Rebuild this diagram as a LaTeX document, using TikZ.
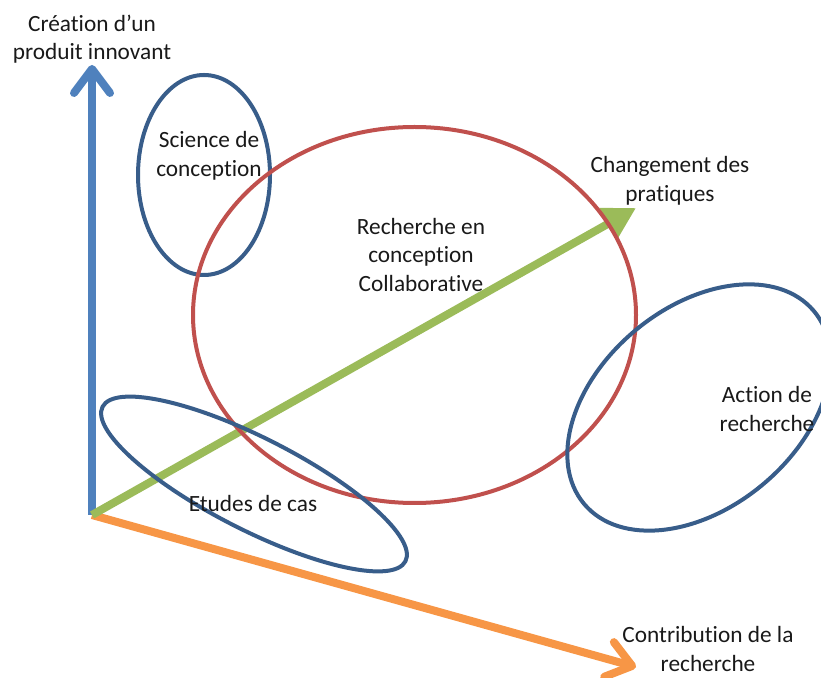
\documentclass[tikz,border=0pt]{standalone}
\usepackage{fontspec}
\setmainfont{Carlito}[Ligatures={NoCommon}]
\usetikzlibrary{arrows.meta}
\definecolor{axebleu}{HTML}{4F81BD}
\definecolor{axevert}{HTML}{9BBB59}
\definecolor{axeorange}{HTML}{F79646}
\definecolor{bleufonce}{HTML}{385D8A}
\definecolor{rougebrique}{HTML}{C0504D}
\tikzset{
    axe/.style={line width=8pt},
    bulle/.style={line width=4pt, draw=bleufonce},
    texte/.style={align=center, inner sep=1pt, text=black!90, font=\fontsize{23.3}{28.5}\selectfont},
  }

\begin{document}
\begin{tikzpicture}[x=1pt,y=1pt]
				  \useasboundingbox (0,0) rectangle (821,677);
				  %origine et extremites des axes
				  \coordinate (O) at (92,162);
				  \coordinate (Y) at (92,612);
				  \coordinate (V) at (636,469);
				  \coordinate (X) at (636,10);

				  \draw[axe, axebleu, -{Straight Barb[length=24pt,width=36pt,round]}] (O) -- (Y);
				  \draw[axe, axeorange, -{Straight Barb[length=24pt,width=36pt,round]}] (O) -- (X);
				  \draw[axe, axevert, -{Triangle[length=32pt,width=34pt]}] (O) -- (V);

				  %bulles
				  \draw[bulle] (204,502) ellipse [x radius=66pt, y radius=100pt];
				  \draw[bulle, draw=rougebrique] (414.5,362) ellipse [x radius=221.5pt, y radius=188pt];
				  \draw[bulle, rotate around={-27:(254,193)}] (254,193) ellipse [x radius=170pt, y radius=46pt];
				  \draw[bulle, rotate around={40:(699,269.5)}] (699,269.5) ellipse [x radius=150pt, y radius=100pt];

				  %textes
				  \node[texte] (creation) at (92,638) {Création d’un\\produit innovant};
				  \node[texte] (science) at (209,521) {Science de\\conception};
				  \node[texte] (rcc) at (421,422) {Recherche en\\conception\\Collaborative};
				  \node[texte] (changement) at (670,496) {Changement des\\pratiques};
				  \node[texte] (action) at (767,268) {Action de\\recherche};
				  \node[texte] (etudes) at (253,174) {Etudes de cas};
				  \node[texte] (contribution) at (708,28) {Contribution de la\\recherche};
\end{tikzpicture}
\end{document}
